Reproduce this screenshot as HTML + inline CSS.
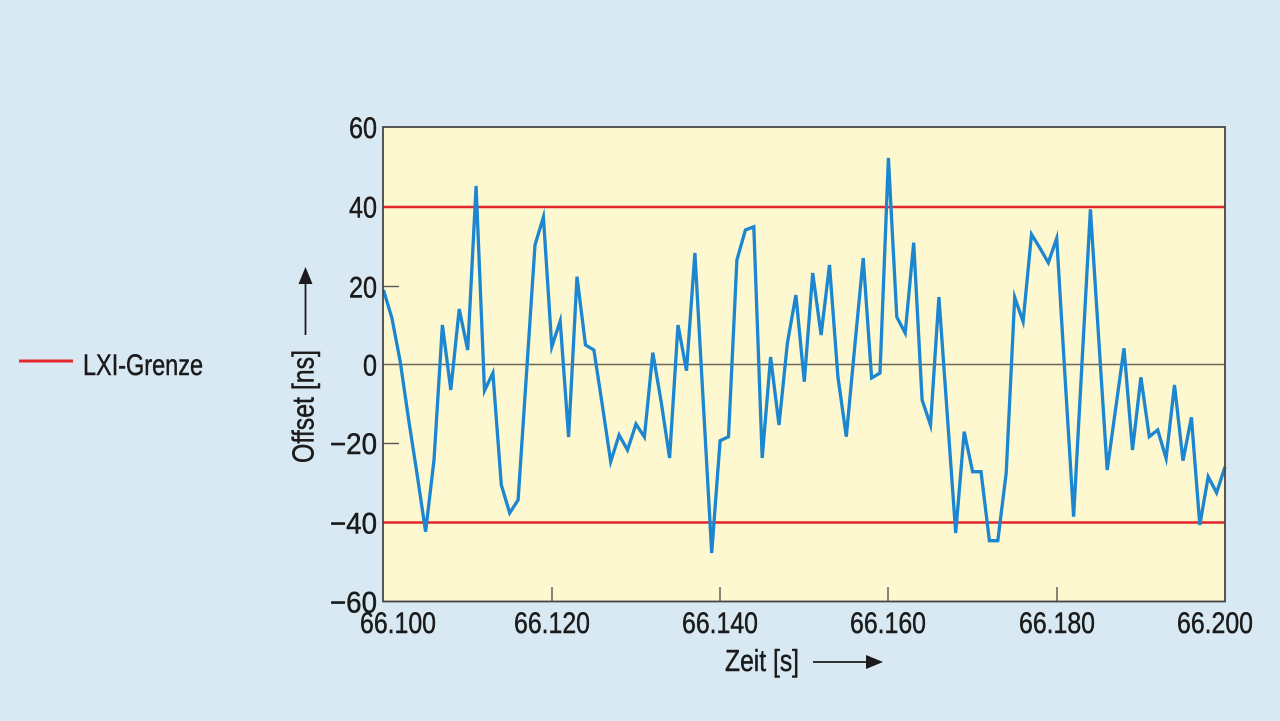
<!DOCTYPE html>
<html>
<head>
<meta charset="utf-8">
<style>
  html, body { margin: 0; padding: 0; background: #d9e9f3; }
  svg { display: block; }
  text { font-family: "Liberation Sans", "DejaVu Sans", sans-serif; fill: #1b1b1b; stroke: #1b1b1b; stroke-width: 0.5; }
</style>
</head>
<body>
<svg width="1280" height="721" viewBox="0 0 1280 721" xmlns="http://www.w3.org/2000/svg">
  <rect x="0" y="0" width="1280" height="721" fill="#d9e9f3"/>

  <!-- plot area -->
  <rect x="383" y="127" width="842" height="474.5" fill="#fdf8d0"/>

  <!-- zero line -->
  <line x1="383" y1="364.5" x2="1225" y2="364.5" stroke="#6a6858" stroke-width="1.6"/>
  <!-- limit lines -->
  <line x1="383" y1="207" x2="1225" y2="207" stroke="#e3262c" stroke-width="2.4"/>
  <line x1="383" y1="522.5" x2="1225" y2="522.5" stroke="#e3262c" stroke-width="2.4"/>

  <!-- y ticks (inward) -->
  <line x1="383" y1="286.5" x2="399" y2="286.5" stroke="#555" stroke-width="1.4"/>
  <line x1="383" y1="443.5" x2="399" y2="443.5" stroke="#555" stroke-width="1.4"/>

  <!-- x ticks (inward) -->
  <line x1="552" y1="601" x2="552" y2="587" stroke="#555" stroke-width="1.4"/>
  <line x1="720" y1="601" x2="720" y2="587" stroke="#555" stroke-width="1.4"/>
  <line x1="888" y1="601" x2="888" y2="587" stroke="#555" stroke-width="1.4"/>
  <line x1="1057" y1="601" x2="1057" y2="587" stroke="#555" stroke-width="1.4"/>

  <!-- data -->
  <polyline fill="none" stroke="#1c86d0" stroke-width="3.3" stroke-linejoin="miter" stroke-miterlimit="6" points="
    383.5,290 391.9,318 400.3,362 408.7,420 417.2,475 425.6,531.7
    434.0,460 442.4,325 450.8,390 459.2,309 467.7,350 476.1,186
    484.5,390.7 492.9,373 501.3,485 509.7,513 518.1,500 526.6,372
    535.0,245 543.4,217 551.8,346.7 560.2,321 568.6,437 577.0,276.7
    585.5,345 593.9,350 602.3,405 610.7,461.7 619.1,435 627.5,450
    636.0,424 644.4,437 652.8,352.7 661.2,402 669.6,458 678.0,325
    686.5,370.7 694.9,253 703.3,403 711.7,553 720.1,440.7 728.5,436.7
    736.9,260 745.4,230 753.8,226.7 762.2,458 770.6,357 779.0,425
    787.4,343 795.9,295 804.3,381.7 812.7,273 821.1,335 829.5,265
    837.9,376.7 846.3,436.7 854.7,347 863.2,258 871.6,378 880.0,373
    888.4,158 896.8,317 905.2,333 913.7,242.7 922.1,400 930.5,425
    938.9,297 947.3,415 955.7,533 964.2,431.7 972.6,471.7 981.0,471.7
    989.4,540.7 997.8,540.7 1006.2,473 1014.7,297.3 1023.1,321.7 1031.5,234.3
    1039.9,248 1048.3,262.7 1056.7,238.3 1065.1,378 1073.6,516.7 1082.0,363
    1090.4,209.3 1098.8,340 1107.2,470 1115.6,409 1124.0,348.3 1132.5,450
    1140.9,377.3 1149.3,436.7 1157.7,430 1166.1,458.3 1174.5,385 1183.0,460.7
    1191.4,417.3 1199.8,525 1208.2,476.7 1216.6,492.7 1225,466.7"/>

  <!-- plot border -->
  <rect x="383" y="127" width="842" height="474.5" fill="none" stroke="#454545" stroke-width="1.8"/>

  <!-- y tick labels -->
  <g font-size="30" text-anchor="end">
    <text x="377" y="138" textLength="28" lengthAdjust="spacingAndGlyphs">60</text>
    <text x="377" y="217.5" textLength="28" lengthAdjust="spacingAndGlyphs">40</text>
    <text x="377" y="297.5" textLength="28" lengthAdjust="spacingAndGlyphs">20</text>
    <text x="377" y="375.5" textLength="14" lengthAdjust="spacingAndGlyphs">0</text>
    <text x="377" y="454" textLength="47" lengthAdjust="spacingAndGlyphs">−20</text>
    <text x="377" y="533.5" textLength="47" lengthAdjust="spacingAndGlyphs">−40</text>
    <text x="377" y="612.5" textLength="47" lengthAdjust="spacingAndGlyphs">−60</text>
  </g>

  <!-- x tick labels -->
  <g font-size="30">
    <text x="360" y="633" textLength="76" lengthAdjust="spacingAndGlyphs">66.100</text>
    <text x="514" y="633" textLength="76" lengthAdjust="spacingAndGlyphs">66.120</text>
    <text x="682" y="633" textLength="76" lengthAdjust="spacingAndGlyphs">66.140</text>
    <text x="850" y="633" textLength="76" lengthAdjust="spacingAndGlyphs">66.160</text>
    <text x="1019" y="633" textLength="76" lengthAdjust="spacingAndGlyphs">66.180</text>
    <text x="1177" y="633" textLength="76" lengthAdjust="spacingAndGlyphs">66.200</text>
  </g>

  <!-- x axis title + arrow -->
  <text x="725" y="671" font-size="31" textLength="74" lengthAdjust="spacingAndGlyphs">Zeit [s]</text>
  <line x1="813" y1="662" x2="868" y2="662" stroke="#1b1b1b" stroke-width="1.8"/>
  <polygon points="866,655 883,662 866,669" fill="#1b1b1b"/>

  <!-- y axis title + arrow -->
  <text transform="translate(313.5,463) rotate(-90)" font-size="31" textLength="113" lengthAdjust="spacingAndGlyphs">Offset [ns]</text>
  <line x1="305.5" y1="335" x2="305.5" y2="282" stroke="#1b1b1b" stroke-width="1.8"/>
  <polygon points="298.5,284 305.5,267 312.5,284" fill="#1b1b1b"/>

  <!-- legend -->
  <line x1="19" y1="361" x2="73" y2="361" stroke="#e3262c" stroke-width="3"/>
  <text x="83" y="375" font-size="30" textLength="120" lengthAdjust="spacingAndGlyphs">LXI-Grenze</text>
</svg>
</body>
</html>
